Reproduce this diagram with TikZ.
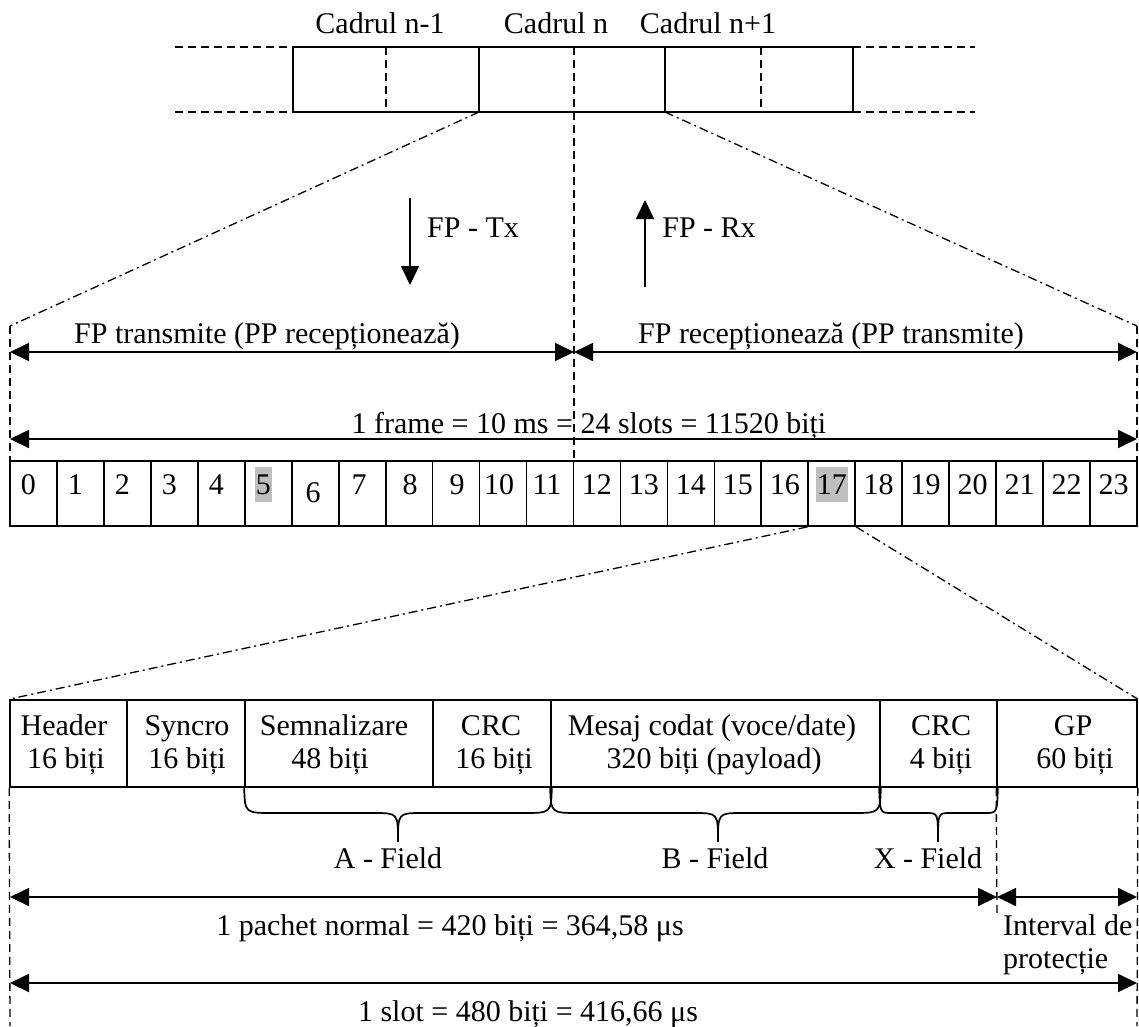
\documentclass[tikz,border=0pt]{standalone}
\usepackage{fontspec}
\setmainfont{Liberation Serif}
\usetikzlibrary{arrows.meta}

\newcommand{\txtfont}{\fontsize{30}{33}\selectfont}

\begin{document}
\begin{tikzpicture}[x=1pt,y=-1pt,
  lbl/.style={font=\txtfont, inner sep=0pt, anchor=base},
  frameline/.style={line width=1.7pt},
  dashline/.style={line width=1.3pt, dash pattern=on 8pt off 5pt},
  dashdot/.style={line width=1.3pt, dash pattern=on 9pt off 4pt on 2pt off 4pt},
  dimarrow/.style={line width=1.8pt, {Triangle[length=19pt,width=18pt]}-{Triangle[length=19pt,width=18pt]}},
  dirarrow/.style={line width=1.6pt, -{Triangle[length=19pt,width=18pt]}},
  slotcell/.style={draw, line width=1.7pt, minimum width=46.958pt, minimum height=65pt, inner sep=0pt},
  pktcell/.style={draw, line width=1.7pt, minimum height=87pt, inner sep=0pt},
  num/.style={font=\txtfont, inner xsep=1pt, inner ysep=0pt, text height=27pt, text depth=8pt, anchor=base},
  hilite/.style={fill=gray!50},
  braceline/.style={line width=1.7pt},
]
\useasboundingbox (0,0) rectangle (1139,1026);

% ---------- frame sequence ----------
\foreach \x [count=\i] in {293,479,665,853} {
  \coordinate (ft\i) at (\x,47);
  \coordinate (fb\i) at (\x,112);
}
\coordinate (el1) at (175,47);  \coordinate (el2) at (175,112);
\coordinate (er1) at (975,47);  \coordinate (er2) at (975,112);
\coordinate (ha1) at (386,47);  \coordinate (hb1) at (386,112);
\coordinate (ha3) at (761,47);  \coordinate (hb3) at (761,112);
\coordinate (mid) at (574,47);
\coordinate (midlow) at (574,461);

\draw[frameline] (ft1) rectangle (fb4);
\draw[frameline] (ft2) -- (fb2) (ft3) -- (fb3);
\draw[dashline] (ha1) -- (hb1) (ha3) -- (hb3);
\draw[dashline] (el1) -- (ft1) (el2) -- (fb1) (ft4) -- (er1) (fb4) -- (er2);
\draw[dashline] (mid) -- (midlow);

\node[lbl] (c1) at (380,33) {Cadrul n-1};
\node[lbl] (c2) at (556,33) {Cadrul n};
\node[lbl] (c3) at (708,33) {Cadrul n+1};

% ---------- zoom onto frame n ----------
\coordinate (zl) at (10,326);
\coordinate (zr) at (1137,326);
\coordinate (zl2) at (10,461);
\coordinate (zr2) at (1137,461);
\draw[dashdot] (fb2) -- (zl);
\draw[dashdot] (fb3) -- (zr);
\draw[dashline] (zl) -- (zl2) (zr) -- (zr2);

% direction arrows
\coordinate (tx1) at (410,198); \coordinate (tx2) at (410,285);
\coordinate (rx1) at (645,287); \coordinate (rx2) at (645,200);
\draw[dirarrow] (tx1) -- (tx2);
\draw[dirarrow] (rx1) -- (rx2);
\node[lbl] (ltx) at (473,237) {FP - Tx};
\node[lbl] (lrx) at (709,237) {FP - Rx};

% half-frame and frame spans
\coordinate (a1) at (10,352); \coordinate (a2) at (574,352); \coordinate (a3) at (1137,352);
\draw[dimarrow] (a1) -- (a2);
\draw[dimarrow] (a2) -- (a3);
\node[lbl] (ltr) at (267,343) {FP transmite (PP recepționează)};
\node[lbl] (lrc) at (831,343) {FP recepționează (PP transmite)};

\coordinate (b1) at (10,439); \coordinate (b2) at (1137,439);
\draw[dimarrow] (b1) -- (b2);
\node[lbl] (lfr) at (589,433) {1 frame = 10 ms = 24 slots = 11520 biți};

% ---------- 24 slots ----------
\foreach \i in {0,...,23} {
  \pgfmathsetmacro{\xc}{10+(\i+0.5)*46.958}
  \node[slotcell] (s\i) at (\xc,493.5) {};
}
\foreach \i/\dx in {0/-5,1/-5,2/-5,3/-5,4/-5,7/-3,8/1,9/1,10/-4,11/-3,12/0,13/0,14/0,15/0,16/0,18/0,19/0,20/0,21/0,22/0,23/0} {
  \node[num] (n\i) at ([xshift=\dx pt]s\i.center |- 0,494) {\i};
}
\node[num, hilite] (n5) at ([xshift=-5pt]s5.center |- 0,494) {5};
\node[num] (n6) at ([xshift=-2pt]s6.center |- 0,502) {6};
\node[num, hilite] (n17) at (s17.center |- 0,494) {17};

% ---------- zoom onto slot 17 ----------
\foreach \xa/\xb [count=\k] in {10/127,127/245,245/433,433/551,551/880,880/997,997/1137} {
  \pgfmathsetmacro{\w}{\xb-\xa}
  \pgfmathsetmacro{\cx}{(\xa+\xb)/2}
  \node[pktcell, minimum width=\w pt] (p\k) at (\cx,743.5) {};
}
\draw[dashdot] (s17.south west) -- (p1.north west);
\draw[dashdot] (s17.south east) -- (p7.north east);

\node[lbl] (t1a) at (64,735)  {Header};
\node[lbl] (t1b) at (66,768)  {16 biți};
\node[lbl] (t2a) at (187,735) {Syncro};
\node[lbl] (t2b) at (187,768) {16 biți};
\node[lbl] (t3a) at (334,735) {Semnalizare};
\node[lbl] (t3b) at (330,768) {48 biți};
\node[lbl] (t4a) at (491,735) {CRC};
\node[lbl] (t4b) at (494,768) {16 biți};
\node[lbl] (t5a) at (712,735) {Mesaj codat (voce/date)};
\node[lbl] (t5b) at (714,768) {320 biți (payload)};
\node[lbl] (t6a) at (941,735) {CRC};
\node[lbl] (t6b) at (941,768) {4 biți};
\node[lbl] (t7a) at (1073,735) {GP};
\node[lbl] (t7b) at (1075,768) {60 biți};

% field braces
\draw[braceline] (p3.south west) .. controls (245,813) .. (273,813) -- (374,813)
  .. controls (398,813) .. (398,842) .. controls (398,813) .. (422,813) -- (523,813)
  .. controls (551,813) .. (p4.south east);
\draw[braceline] (p5.south west) .. controls (551,813) .. (579,813) -- (694,813)
  .. controls (718,813) .. (718,842) .. controls (718,813) .. (742,813) -- (852,813)
  .. controls (880,813) .. (p5.south east);
\draw[braceline] (p6.south west) .. controls (880,813) .. (892,813) -- (926,813)
  .. controls (938,813) .. (938,842) .. controls (938,813) .. (950,813) -- (985,813)
  .. controls (997,813) .. (p6.south east);
\node[lbl] (fa) at (388,868) {A - Field};
\node[lbl] (fb) at (715,868) {B - Field};
\node[lbl] (fx) at (928,868) {X - Field};

% packet and slot spans
\coordinate (d1) at (10,1026);
\coordinate (d2) at (997,915);
\coordinate (d3) at (1137,1026);
\draw[dashline] (p1.south west) -- (d1);
\draw[dashline] (p7.south west) -- (d2);
\draw[dashline] (p7.south east) -- (d3);

\coordinate (e1) at (10,897); \coordinate (e2) at (997,897); \coordinate (e3) at (1137,897);
\draw[dimarrow] (e1) -- (e2);
\draw[dimarrow] (e2) -- (e3);
\node[lbl] (lpk) at (450,935) {1 pachet normal = 420 biți = 364,58 μs};
\node[lbl, anchor=base west] (lgi1) at (1003,935) {Interval de};
\node[lbl, anchor=base west] (lgi2) at (1003,968) {protecție};

\coordinate (g1) at (10,983); \coordinate (g2) at (1137,983);
\draw[dimarrow] (g1) -- (g2);
\node[lbl] (lsl) at (528,1021) {1 slot = 480 biți = 416,66 μs};
\end{tikzpicture}
\end{document}
